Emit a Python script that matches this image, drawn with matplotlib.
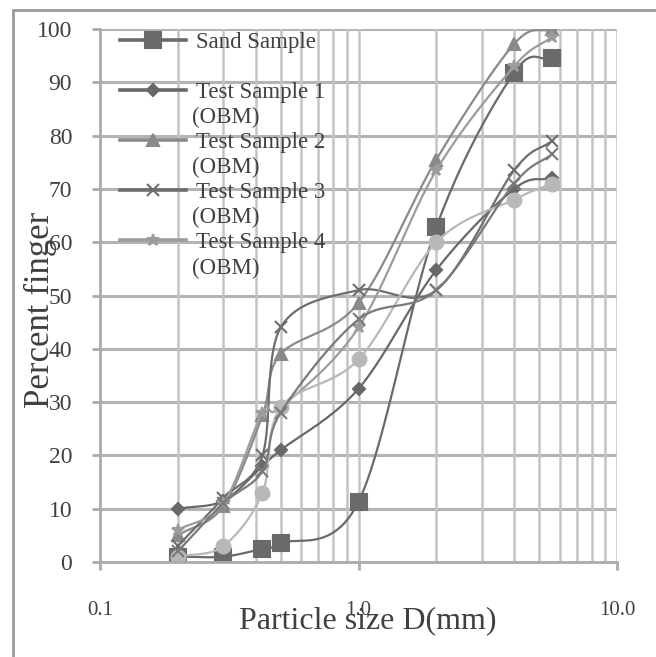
import numpy as np
import matplotlib.pyplot as plt
from matplotlib.patches import Rectangle

plt.rcParams["font.family"] = ["Liberation Serif", "DejaVu Serif"]

# sieve sizes (mm)
SIZES = [0.2, 0.3, 0.425, 0.5, 1.0, 2.0, 4.0, 5.6]

SAND = [1.0, 1.0, 2.5, 3.5, 11.3, 62.8, 91.8, 94.5]
TEST_1 = [10.0, 11.5, 18.0, 21.0, 32.5, 54.8, 70.0, 72.0]
TEST_2 = [5.0, 10.5, 27.5, 39.0, 48.6, 75.5, 97.2, 100.0]
TEST_3 = [3.0, 12.0, 20.0, 44.0, 51.0, 51.0, 73.5, 79.0]
TEST_4 = [6.0, 11.0, 28.0, 29.0, 44.0, 73.5, 93.0, 98.5]
EXTRA_A = [1.0, 3.0, 13.0, 29.0, 38.0, 60.0, 68.0, 71.0]
EXTRA_B = [2.0, 11.0, 17.0, 28.0, 45.5, 51.0, 71.0, 76.5]

LABELS = [
    "Sand Sample",
    "Test Sample 1",
    "Test Sample 2",
    "Test Sample 3",
    "Test Sample 4",
    "_nolegend_",
    "_nolegend_",
]
SUB_LABEL = "(OBM)"
SERIES = [SAND, TEST_1, TEST_2, TEST_3, TEST_4, EXTRA_A, EXTRA_B]
MARKERS = ["s", "D", "^", "x", "*", "o", "x"]
MSIZES = [11, 6, 9, 8, 9, 10, 8]
COLORS = ["#6a6a6a", "#686868", "#8a8a8a", "#6e6e6e", "#9c9c9c", "#b8b8b8", "#7a7a7a"]

N_SEG = 24


def smooth(xs, ys, n=N_SEG):
    # catmull-rom through the points, in log-x space (excel style smoothed line)
    lx = np.log10(xs)
    ys = np.asarray(ys, dtype=float)
    px = np.concatenate([[2 * lx[0] - lx[1]], lx, [2 * lx[-1] - lx[-2]]])
    py = np.concatenate([[2 * ys[0] - ys[1]], ys, [2 * ys[-1] - ys[-2]]])
    out_x, out_y = [], []
    t = np.linspace(0, 1, n, endpoint=False)
    for i in range(1, len(px) - 2):
        p0x, p1x, p2x, p3x = px[i - 1 : i + 3]
        p0y, p1y, p2y, p3y = py[i - 1 : i + 3]
        for pa, pb, pc, pd, out in ((p0x, p1x, p2x, p3x, out_x), (p0y, p1y, p2y, p3y, out_y)):
            out.extend(
                0.5
                * (
                    2 * pb
                    + (-pa + pc) * t
                    + (2 * pa - 5 * pb + 4 * pc - pd) * t ** 2
                    + (-pa + 3 * pb - 3 * pc + pd) * t ** 3
                )
            )
    out_x.append(lx[-1])
    out_y.append(ys[-1])
    return 10 ** np.array(out_x), np.array(out_y)


fig = plt.figure(figsize=(6.56, 6.57), dpi=100)
ax = fig.add_axes([100 / 656, 1 - 562 / 657, 517 / 656, 533 / 657])

for ys, label, marker, ms, color in zip(SERIES, LABELS, MARKERS, MSIZES, COLORS):
    sx, sy = smooth(SIZES, ys)
    ax.plot(
        sx,
        sy,
        color=color,
        linewidth=1.6,
        marker=marker,
        markersize=ms,
        markeredgewidth=1.5,
        markevery=[k * N_SEG for k in range(len(SIZES))],
        label=label,
    )

ax.set_xscale("log")
ax.set_xlim(0.1, 10)
ax.set_ylim(0, 100)
ax.set_yticks(range(0, 101, 10))
ax.set_xticks([0.1, 1.0, 10.0])
ax.set_xticklabels(["0.1", "1.0", "10.0"])
ax.minorticks_off()

grid_color = "#c4c4c4"
for v in range(10, 101, 10):
    ax.axhline(v, color="#b4b4b4", linewidth=2.2, zorder=0.5)
for dec in (0.1, 1.0):
    for m in range(2, 11):
        ax.axvline(dec * m, color=grid_color, linewidth=1.8, zorder=0.5)

for side in ("top", "right"):
    ax.spines[side].set_visible(False)
for side in ("left", "bottom"):
    ax.spines[side].set_color("#aaaaaa")
    ax.spines[side].set_linewidth(2)

ax.tick_params(axis="y", length=6, width=2, color="#aaaaaa", pad=14,
               labelsize=17, labelcolor="#404040")
ax.tick_params(axis="x", length=6, width=2, color="#aaaaaa", pad=22,
               labelsize=15, labelcolor="#404040")

ax.set_xlabel("Particle size D(mm)", fontsize=23, color="#404040")
ax.xaxis.set_label_coords(0.517, -0.083)
ax.set_ylabel("Percent finger", fontsize=25, color="#404040")
ax.yaxis.set_label_coords(-0.083, 0.473)

leg = ax.legend(
    loc="upper left",
    bbox_to_anchor=(0.02, 1.012),
    frameon=False,
    fontsize=16.5,
    handlelength=2.9,
    handletextpad=0.45,
    labelspacing=1.27,
    borderaxespad=0,
)
for t in leg.get_texts():
    t.set_color("#404040")
for h in leg.legend_handles:
    h.set_linewidth(2.6)

# second line of the legend labels
fig.canvas.draw()
inv = ax.transAxes.inverted()
for t in leg.get_texts()[1:]:
    bb = t.get_window_extent()
    x0, y0 = inv.transform((bb.x0 - 4, bb.y0 - 4))
    ax.text(x0, y0, SUB_LABEL, transform=ax.transAxes, fontsize=16.5,
            color="#404040", ha="left", va="top")

fig.patches.append(
    Rectangle((13 / 656, -0.1), 1.1, 1.1 - 10 / 657,
              transform=fig.transFigure, fill=False, edgecolor="#9a9a9a",
              linewidth=2, clip_on=False)
)

fig.savefig("out.png", dpi=100)
